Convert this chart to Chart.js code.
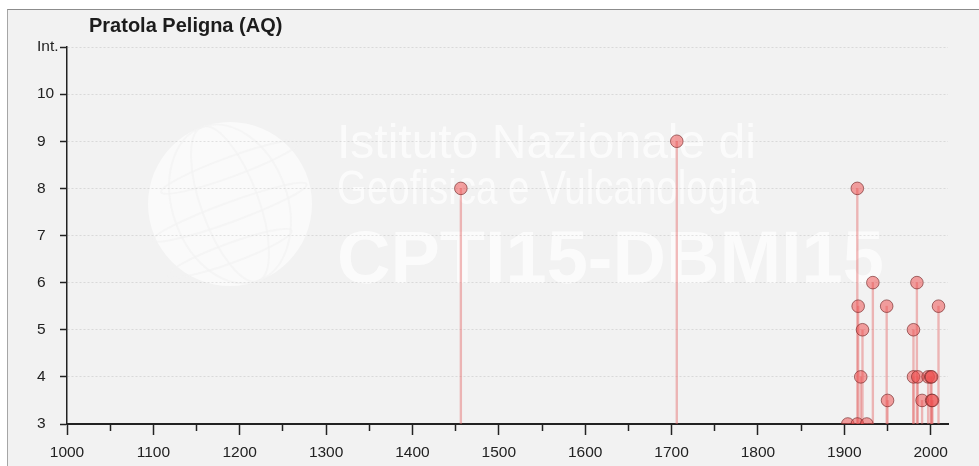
<!DOCTYPE html>
<html>
<head>
<meta charset="utf-8">
<script src="https://cdn.jsdelivr.net/npm/chart.js@4"></script>
<style>
  html, body { margin: 0; padding: 0; background: #ffffff; }
  #frame {
    position: absolute; left: 7px; top: 9px;
    width: 971px; height: 456px;
    background: #f2f2f2;
    border-top: 1px solid #8c8c8c;
    border-left: 1px solid #a6a6a6;
  }
  canvas { display: block; }
</style>
</head>
<body>
<div id="frame"><canvas id="chart" width="971" height="456"></canvas></div>
<script>
// Felt earthquakes at Pratola Peligna (AQ): year of the event and local intensity
const placeName = 'Pratola Peligna (AQ)';
const eventYears  = [1456, 1706, 1904, 1915, 1915, 1916, 1919, 1921, 1926, 1933, 1949, 1950, 1980, 1980, 1984, 1985, 1990, 1997, 2000, 2001, 2001, 2002, 2009];
const intensities = [   8,    9,    3,    3,    8,  5.5,    4,    5,    3,    6,  5.5,  3.5,    5,    4,    6,    4,  3.5,    4,    4,    4,  3.5,  3.5,  5.5];

// Axis settings
const yearMin = 1000, yearMax = 2020, yearStep = 50, yearLabelStep = 100;
const intMin = 3, intMax = 11;
const intTopLabel = 'Int.';

// Watermark lines
const watermarkLines = ['Istituto Nazionale di', 'Geofisica e Vulcanologia', 'CPTI15-DBMI15'];

const FONT = '"Liberation Sans", Arial, sans-serif';

const watermark = {
  id: 'watermark',
  beforeDraw(chart) {
    const c = chart.ctx;
    c.save();
    // globe emblem
    const cx = 222, cy = 194, r = 82;
    c.fillStyle = 'rgba(255,255,255,0.6)';
    c.beginPath(); c.arc(cx, cy, r, 0, Math.PI * 2); c.fill();
    c.strokeStyle = 'rgba(242,242,242,0.7)';
    c.lineWidth = 2;
    for (const k of [0.35, 0.7]) {
      c.beginPath(); c.ellipse(cx, cy, r * k, r, -0.35, 0, Math.PI * 2); c.stroke();
    }
    for (const k of [-0.45, 0.1, 0.6]) {
      c.beginPath(); c.ellipse(cx, cy + r * k, r * Math.sqrt(1 - k * k), r * 0.12, -0.35, 0, Math.PI * 2); c.stroke();
    }
    // institute lettering
    c.fillStyle = 'rgba(255,255,255,0.7)';
    c.textBaseline = 'alphabetic';
    c.font = '48px ' + FONT;
    c.fillText(watermarkLines[0], 329, 148, 452);
    c.fillText(watermarkLines[1], 329, 194, 422);
    c.font = 'bold 74px ' + FONT;
    c.fillText(watermarkLines[2], 329, 273, 562);
    c.restore();
  }
};

const titlePlugin = {
  id: 'placeTitle',
  afterDraw(chart) {
    const c = chart.ctx;
    c.save();
    c.font = 'bold 20px ' + FONT;
    c.fillStyle = '#1c1c1c';
    c.textBaseline = 'alphabetic';
    c.fillText(placeName, chart.chartArea.left + 22, 22);
    c.restore();
  }
};

const stems = eventYears.map((yr, i) => ({ x: yr, y: [intMin, intensities[i]] }));
const dots  = eventYears.map((yr, i) => ({ x: yr, y: intensities[i] }));

new Chart(document.getElementById('chart'), {
  type: 'scatter',
  data: {
    datasets: [
      {
        type: 'bar',
        data: stems,
        backgroundColor: 'rgba(228,104,104,0.45)',
        borderWidth: 0,
        barThickness: 1.7,
        order: 2
      },
      {
        type: 'scatter',
        data: dots,
        pointRadius: 6.3,
        backgroundColor: 'rgba(238,76,76,0.52)',
        borderColor: 'rgba(115,40,40,0.65)',
        borderWidth: 1,
        order: 1
      }
    ]
  },
  options: {
    responsive: false,
    animation: false,
    events: [],
    layout: { padding: { left: 29, top: 37, right: 31, bottom: 0 } },
    plugins: { legend: { display: false }, tooltip: { enabled: false }, title: { display: false } },
    scales: {
      x: {
        type: 'linear',
        min: yearMin, max: yearMax,
        offset: false,
        afterFit(s) { s.height = 42; },
        border: { color: '#222', width: 2 },
        grid: {
          offset: false,
          drawOnChartArea: false,
          drawTicks: true,
          tickLength: 11,
          tickWidth: 1.5,
          tickColor: '#222',
          tickBorderDash: (ctx) => (ctx.tick && ctx.tick.value % yearLabelStep !== 0) ? [6, 20] : []
        },
        ticks: {
          stepSize: yearStep,
          autoSkip: false,
          includeBounds: false,
          maxRotation: 0,
          padding: 8,
          color: '#222',
          font: { family: FONT, size: 15.5 },
          callback: (v) => (v % yearLabelStep === 0 ? String(v) : '')
        }
      },
      y: {
        min: intMin, max: intMax,
        afterFit(s) { s.width = 30; },
        border: { color: '#222', width: 1.5, dash: [2, 2] },
        grid: {
          color: 'rgba(0,0,0,0.10)',
          lineWidth: 1,
          tickColor: '#222',
          tickLength: 7,
          tickWidth: 1.5,
          tickBorderDash: []
        },
        ticks: {
          stepSize: 1,
          crossAlign: 'far',
          padding: 0,
          color: '#222',
          font: { family: FONT, size: 15.5 },
          callback: (v) => (v === intMax ? intTopLabel : String(v))
        }
      }
    }
  },
  plugins: [watermark, titlePlugin]
});
</script>
</body>
</html>
